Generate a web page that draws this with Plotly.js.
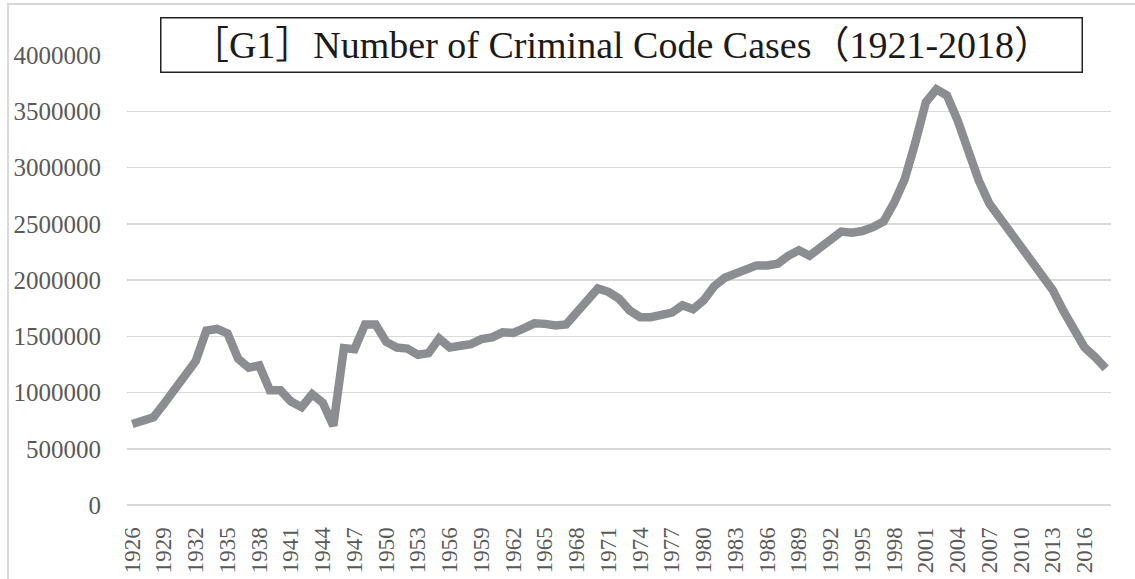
<!DOCTYPE html>
<html>
<head>
<meta charset="utf-8">
<script src="https://cdn.plot.ly/plotly-3.0.1.min.js"></script>
<style>
html,body{margin:0;padding:0;background:#fff;}
#chart{width:1135px;height:579px;}
</style>
</head>
<body>
<div id="chart"></div>
<script>
const years = [];
for (let y = 1926; y <= 2018; y++) years.push(String(y));

const chartTitle = "［G1］Number of Criminal Code Cases（1921-2018）";

const cases = [
  720000, 750000, 780000, 900000, 1030000, 1150000, 1280000, 1550000, 1565000, 1525000,
  1300000, 1220000, 1240000, 1020000, 1020000, 920000, 870000, 985000, 910000, 705000,
  1395000, 1385000, 1605000, 1605000, 1450000, 1400000, 1390000, 1335000, 1350000, 1480000,
  1400000, 1415000, 1430000, 1475000, 1490000, 1535000, 1530000, 1570000, 1615000, 1610000,
  1595000, 1605000, 1720000, 1815000, 1925000, 1895000, 1835000, 1730000, 1670000, 1670000,
  1690000, 1710000, 1775000, 1740000, 1820000, 1945000, 2020000, 2055000, 2095000, 2130000,
  2130000, 2145000, 2215000, 2265000, 2215000, 2280000, 2345000, 2430000, 2420000, 2435000,
  2470000, 2520000, 2685000, 2895000, 3220000, 3580000, 3695000, 3640000, 3420000, 3130000,
  2885000, 2680000, 2550000, 2420000, 2295000, 2160000, 2030000, 1910000, 1725000, 1545000,
  1400000, 1315000, 1215000
];

const yTickVals = [0, 500000, 1000000, 1500000, 2000000, 2500000, 3000000, 3500000, 4000000];

const serif = "'Liberation Serif', 'DejaVu Serif', 'Noto Sans CJK JP', serif";

const trace = {
  x: years,
  y: cases,
  type: 'scatter',
  mode: 'lines',
  line: {color: '#8c8d91', width: 8.5, shape: 'linear'},
  hoverinfo: 'skip'
};

const layout = {
  width: 1135,
  height: 579,
  margin: {l: 127, r: 24, t: 55, b: 74},
  paper_bgcolor: '#ffffff',
  plot_bgcolor: '#ffffff',
  showlegend: false,
  font: {family: serif, color: '#595959'},
  xaxis: {
    type: 'category',
    range: [-0.5, years.length - 0.5],
    tickmode: 'linear',
    tick0: 0,
    dtick: 3,
    tickangle: -90,
    tickfont: {family: serif, size: 23, color: '#595959'},
    showgrid: false,
    zeroline: false,
    showline: false,
    ticks: 'outside',
    ticklen: 12,
    tickcolor: 'rgba(0,0,0,0)'
  },
  yaxis: {
    range: [0, 4000000],
    tickmode: 'array',
    tickvals: yTickVals,
    ticktext: yTickVals.map(v => String(v)),
    tickfont: {family: serif, size: 25, color: '#595959'},
    showgrid: true,
    gridcolor: '#d9d9d9',
    gridwidth: 1.5,
    zeroline: true,
    zerolinecolor: '#d9d9d9',
    zerolinewidth: 1.5,
    showline: false,
    ticks: 'outside',
    ticklen: 20,
    tickcolor: 'rgba(0,0,0,0)'
  },
  shapes: [{
    type: 'rect', xref: 'paper', yref: 'paper',
    x0: -0.1209, x1: 1.05, y0: -0.25, y1: 1.1133,
    line: {color: '#d9d9d9', width: 2},
    fillcolor: 'rgba(0,0,0,0)',
    layer: 'below'
  }],
  annotations: [{
    text: chartTitle,
    xref: 'paper', yref: 'paper',
    x: 0.503, y: 1.0233,
    xanchor: 'center', yanchor: 'middle',
    showarrow: false,
    width: 920, height: 53,
    align: 'center', valign: 'middle',
    bgcolor: '#ffffff',
    bordercolor: '#222222',
    borderwidth: 1.5,
    borderpad: 0,
    font: {family: serif, size: 38, color: '#1a1a1a'}
  }]
};

Plotly.newPlot('chart', [trace], layout, {displayModeBar: false, staticPlot: true});
</script>
</body>
</html>
